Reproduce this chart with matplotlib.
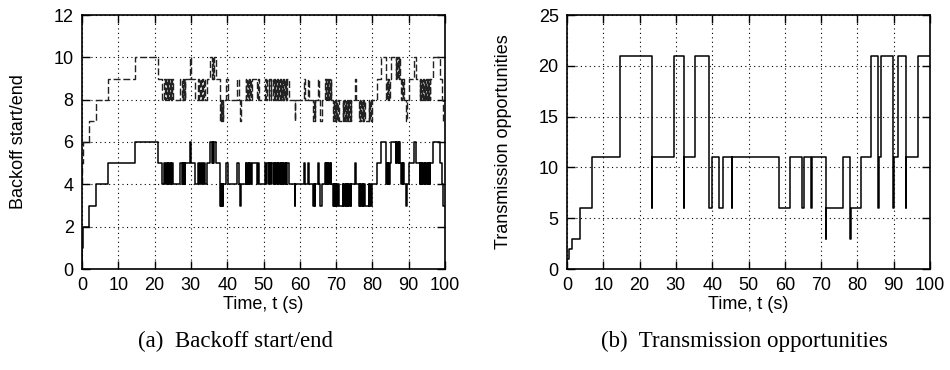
import matplotlib
matplotlib.use("Agg")
import matplotlib.pyplot as plt

# ---------------- data ----------------
# Backoff start / end (step data, value holds from t until next t)
bo_t = [0, 0.1, 0.3, 1.8, 3.8, 7.2, 14.7, 21.0, 22.1, 22.5,
        22.8, 23.1, 23.4, 23.6, 23.8, 24.0, 24.2, 24.4, 24.6, 24.8,
        25.0, 27.0, 27.5, 27.7, 27.9, 28.1, 28.3, 28.5, 29.8, 30.1,
        31.1, 32.0, 32.3, 32.6, 32.9, 33.1, 33.3, 33.6, 33.9, 34.3,
        35.2, 35.8, 36.0, 36.2, 36.4, 37.0, 38.0, 38.2, 38.4, 38.6,
        38.8, 38.9, 39.8, 40.1, 42.6, 43.2, 43.6, 43.7, 45.1, 45.3,
        45.5, 45.7, 45.9, 46.1, 46.3, 46.5, 46.7, 48.1, 48.5, 48.8,
        50.3, 50.8, 51.0, 51.4, 51.6, 52.0, 52.2, 52.7, 52.9, 53.1,
        53.3, 53.5, 53.7, 53.9, 54.1, 54.3, 54.5, 54.7, 54.9, 55.1,
        55.3, 55.5, 55.7, 55.9, 56.1, 56.3, 56.5, 56.9, 58.7, 58.8,
        61.2, 61.4, 62.3, 62.6, 63.7, 63.9, 64.1, 64.3, 64.9, 65.3,
        65.5, 66.0, 66.9, 67.1, 67.3, 67.5, 67.7, 67.9, 68.1, 68.3,
        68.5, 68.7, 69.1, 69.3, 69.5, 69.7, 69.9, 70.1, 70.3, 70.5,
        70.7, 71.8, 72.0, 72.2, 72.4, 72.6, 72.8, 73.0, 73.2, 73.4,
        73.6, 73.8, 74.0, 74.2, 75.2, 75.4, 76.3, 76.5, 76.7, 76.9,
        77.1, 77.3, 77.5, 77.7, 77.9, 79.0, 79.2, 79.4, 79.6, 79.8,
        81.2, 82.4, 83.8, 84.0, 84.2, 84.4, 84.6, 84.8, 85.2, 86.4,
        86.6, 86.8, 87.0, 87.2, 87.4, 87.6, 87.9, 88.1, 88.3, 88.5,
        88.8, 89.3, 89.4, 90.0, 91.5, 92.0, 93.0, 93.2, 93.4, 93.6,
        93.8, 94.0, 94.2, 94.4, 94.6, 94.8, 95.0, 95.2, 95.4, 95.6,
        95.8, 96.0, 96.8, 98.5, 99.2, 99.5, 100]
bo_start = [0, 1, 2, 3, 4, 5, 6, 5, 4, 5,
            4, 5, 4, 5, 4, 5, 4, 5, 4, 5,
            4, 5, 4, 5, 4, 5, 4, 5, 6, 5,
            4, 5, 4, 5, 4, 5, 4, 5, 4, 5,
            6, 5, 6, 5, 6, 5, 3, 4, 3, 4,
            3, 4, 5, 4, 5, 4, 3, 4, 5, 4,
            5, 4, 5, 4, 5, 4, 5, 4, 5, 4,
            5, 4, 5, 4, 5, 4, 5, 4, 5, 4,
            5, 4, 5, 4, 5, 4, 5, 4, 5, 4,
            5, 4, 5, 4, 5, 4, 5, 4, 3, 4,
            5, 4, 5, 4, 3, 4, 3, 4, 5, 4,
            3, 4, 5, 4, 5, 4, 5, 4, 5, 4,
            5, 4, 3, 4, 3, 4, 3, 4, 3, 4,
            3, 4, 3, 4, 3, 4, 3, 4, 3, 4,
            3, 4, 3, 4, 5, 4, 3, 4, 3, 4,
            3, 4, 3, 4, 3, 4, 3, 4, 3, 4,
            5, 6, 4, 5, 4, 5, 4, 5, 6, 5,
            6, 5, 6, 5, 6, 5, 4, 5, 4, 5,
            4, 3, 4, 5, 6, 5, 4, 5, 4, 5,
            4, 5, 4, 5, 4, 5, 4, 5, 4, 5,
            4, 5, 6, 5, 4, 3, 3]
bo_end = [4, 5, 6, 7, 8, 9, 10, 9, 8, 9,
          8, 9, 8, 9, 8, 9, 8, 9, 8, 9,
          8, 9, 8, 9, 8, 9, 8, 9, 10, 9,
          8, 9, 8, 9, 8, 9, 8, 9, 8, 9,
          10, 9, 10, 9, 10, 9, 7, 8, 7, 8,
          7, 8, 9, 8, 9, 8, 7, 8, 9, 8,
          9, 8, 9, 8, 9, 8, 9, 8, 9, 8,
          9, 8, 9, 8, 9, 8, 9, 8, 9, 8,
          9, 8, 9, 8, 9, 8, 9, 8, 9, 8,
          9, 8, 9, 8, 9, 8, 9, 8, 7, 8,
          9, 8, 9, 8, 7, 8, 7, 8, 9, 8,
          7, 8, 9, 8, 9, 8, 9, 8, 9, 8,
          9, 8, 7, 8, 7, 8, 7, 8, 7, 8,
          7, 8, 7, 8, 7, 8, 7, 8, 7, 8,
          7, 8, 7, 8, 9, 8, 7, 8, 7, 8,
          7, 8, 7, 8, 7, 8, 7, 8, 7, 8,
          9, 10, 8, 9, 8, 9, 8, 9, 10, 9,
          10, 9, 10, 9, 10, 9, 8, 9, 8, 9,
          8, 7, 8, 9, 10, 9, 8, 9, 8, 9,
          8, 9, 8, 9, 8, 9, 8, 9, 8, 9,
          8, 9, 10, 9, 8, 7, 7]

# Transmission opportunities (step data)
tx_t = [0, 0.5, 1.5, 3.5, 7.0, 14.7, 23.4, 23.5, 29.4, 32.1,
        32.2, 35.3, 39.2, 39.9, 42.0, 42.9, 45.4, 45.5, 58.3, 61.3,
        64.7, 65.3, 67.3, 67.5, 71.3, 71.4, 76.0, 78.0, 78.2, 81.0,
        83.8, 85.8, 85.9, 86.5, 89.9, 90.0, 91.3, 93.3, 93.4, 96.8,
        100]
tx_val = [1, 2, 3, 6, 11, 21, 6, 11, 21, 6,
          11, 21, 6, 11, 6, 11, 6, 11, 6, 11,
          6, 11, 6, 11, 3, 6, 11, 3, 6, 11,
          21, 6, 11, 21, 6, 11, 21, 6, 11, 21,
          21]

x_ticks = [0, 10, 20, 30, 40, 50, 60, 70, 80, 90, 100]
y_ticks_a = [0, 2, 4, 6, 8, 10, 12]
y_ticks_b = [0, 5, 10, 15, 20, 25]

xlabel = "Time, t (s)"
ylabel_a = "Backoff start/end"
ylabel_b = "Transmission opportunities"
caption_a = "(a)  Backoff start/end"
caption_b = "(b)  Transmission opportunities"

# ---------------- plot ----------------
plt.rcParams['font.family'] = ['Liberation Sans', 'DejaVu Sans']
W, H = 950, 370
fig = plt.figure(figsize=(W / 100, H / 100), dpi=100)

ax_a = fig.add_axes([82 / W, 1 - 269 / H, 363 / W, 254 / H])
ax_b = fig.add_axes([567 / W, 1 - 269 / H, 363 / W, 254 / H])

ax_a.plot(bo_t, bo_start, drawstyle='steps-post', color='black', lw=1.1)
ax_a.plot(bo_t, bo_end, drawstyle='steps-post', color='#222222', lw=1.0,
          linestyle=(0, (5, 2)))
ax_b.plot(tx_t, tx_val, drawstyle='steps-post', color='black', lw=1.1)

for ax, yt, yl in [(ax_a, y_ticks_a, ylabel_a), (ax_b, y_ticks_b, ylabel_b)]:
    ax.set_xlim(0, 100)
    ax.set_ylim(yt[0], yt[-1])
    ax.set_xticks(x_ticks)
    ax.set_yticks(yt)
    ax.grid(True, color='black', linestyle=(0, (1, 3)), lw=0.8)
    ax.tick_params(direction='in', length=6, width=1, top=True, right=True,
                   labelsize=13, pad=6)
    for s in ax.spines.values():
        s.set_linewidth(1.2)
    ax.set_xlabel(xlabel, fontsize=13)
    ax.set_ylabel(yl, fontsize=13)
    ax.xaxis.set_label_coords(0.5, -0.105)
    ax.yaxis.set_label_coords(-0.152, 0.5)

fig.text(236 / W, 1 - 341 / H, caption_a, ha='center', va='center',
         fontsize=16.5, family=['Liberation Serif', 'DejaVu Serif'])
fig.text(744 / W, 1 - 341 / H, caption_b, ha='center', va='center',
         fontsize=16.5, family=['Liberation Serif', 'DejaVu Serif'])

fig.savefig("out.png", dpi=100)
